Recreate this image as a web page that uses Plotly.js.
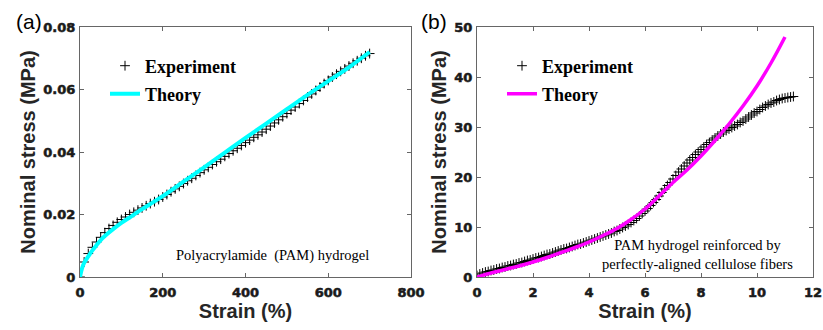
<!DOCTYPE html>
<html>
<head>
<meta charset="utf-8">
<script src="https://cdn.plot.ly/plotly-3.0.1.min.js"></script>
<style>
html,body{margin:0;padding:0;background:#fff;}
#chart{width:823px;height:330px;}
#chart .xtick text, #chart .ytick text, #chart .x2tick text, #chart .y2tick text { stroke: #1a1a1a; stroke-width: 0.55px; }
</style>
</head>
<body>
<div id="chart"></div>
<script>
// Panel (a): Polyacrylamide (PAM) hydrogel
const expA_strain = [0,10,20,30,40,50,60,70,80,90,100,110,120,130,140,150,160,170,180,190,200,210,220,230,240,250,260,270,280,290,300,310,320,330,340,350,360,370,380,390,400,410,420,430,440,450,460,470,480,490,500,510,520,530,540,550,560,570,580,590,600,610,620,630,640,650,660,670,680,690,700];
const expA_stress = [0,0.0048,0.0075,0.0095,0.0112,0.0127,0.0142,0.0155,0.0165,0.0175,0.0184,0.0192,0.0200,0.0207,0.0214,0.0221,0.0228,0.0235,0.0241,0.0248,0.0256,0.0264,0.0273,0.0282,0.0290,0.0299,0.0308,0.0316,0.0325,0.0334,0.0343,0.0351,0.0360,0.0369,0.0377,0.0386,0.0395,0.0404,0.0412,0.0421,0.0430,0.0438,0.0447,0.0455,0.0464,0.0473,0.0483,0.0493,0.0503,0.0513,0.0523,0.0534,0.0544,0.0555,0.0565,0.0576,0.0586,0.0597,0.0608,0.0619,0.0629,0.0640,0.0649,0.0658,0.0666,0.0675,0.0684,0.0692,0.0700,0.0708,0.0715];
const thA_strain = [0,5,10,20,30,40,50,60,80,100,125,150,175,200,250,300,350,400,450,500,550,600,650,700];
const thA_stress = [0,0.0028,0.0045,0.0066,0.0085,0.0102,0.0118,0.0131,0.0153,0.0173,0.0195,0.0217,0.0238,0.0259,0.0305,0.0351,0.0398,0.0445,0.0491,0.0537,0.0583,0.0627,0.0671,0.0720];

// Panel (b): PAM hydrogel reinforced by perfectly-aligned cellulose fibers
const expB_strain = [0.0,0.1,0.2,0.3,0.4,0.5,0.6,0.7,0.8,0.9,1.0,1.1,1.2,1.3,1.4,1.5,1.6,1.7,1.8,1.9,2.0,2.1,2.2,2.3,2.4,2.5,2.6,2.7,2.8,2.9,3.0,3.1,3.2,3.3,3.4,3.5,3.6,3.7,3.8,3.9,4.0,4.1,4.2,4.3,4.4,4.5,4.6,4.7,4.8,4.9,5.0,5.1,5.2,5.3,5.4,5.5,5.6,5.7,5.8,5.9,6.0,6.1,6.2,6.3,6.4,6.5,6.6,6.7,6.8,6.9,7.0,7.1,7.2,7.3,7.4,7.5,7.6,7.7,7.8,7.9,8.0,8.1,8.2,8.3,8.4,8.5,8.6,8.7,8.8,8.9,9.0,9.1,9.2,9.3,9.4,9.5,9.6,9.7,9.8,9.9,10.0,10.1,10.2,10.3,10.4,10.5,10.6,10.7,10.8,10.9,11.0,11.1,11.2,11.3];
const expB_stress = [0.3,0.6,0.8,1.0,1.1,1.3,1.4,1.6,1.7,1.9,2.0,2.2,2.3,2.5,2.6,2.8,2.9,3.1,3.3,3.4,3.6,3.8,3.9,4.1,4.3,4.5,4.6,4.8,5.0,5.2,5.4,5.6,5.7,5.9,6.1,6.3,6.5,6.6,6.8,7.0,7.2,7.4,7.6,7.8,8.0,8.2,8.4,8.6,8.8,9.1,9.3,9.6,9.9,10.2,10.5,10.9,11.3,11.7,12.2,12.7,13.2,13.7,14.3,14.9,15.5,16.2,16.9,17.6,18.3,18.9,19.6,20.3,21.0,21.6,22.2,22.8,23.4,23.9,24.5,25.0,25.5,26.0,26.5,26.9,27.4,27.8,28.2,28.6,29.0,29.3,29.6,29.9,30.2,30.5,30.9,31.2,31.6,32.0,32.4,32.8,33.1,33.5,33.9,34.2,34.5,34.8,35.0,35.3,35.5,35.7,35.8,35.9,36.0,36.1];
const thB_strain = [0,0.5,1,1.5,2,2.5,3,3.5,4,4.5,5,5.5,6,6.5,7,7.5,8,8.5,9,9.5,10,10.5,11];
const thB_stress = [0,0.8,1.5,2.2,3.0,3.9,4.9,5.9,7.0,8.3,9.7,11.5,13.6,16.2,18.9,21.4,24.2,27.3,30.6,34.2,38.2,42.8,48.0];

const xTicksA = [0,200,400,600,800];
const xTickTextA = ['0','200','400','600','800'];
const yTicksA = [0,0.02,0.04,0.06,0.08];
const yTickTextA = ['0','0.02','0.04','0.06','0.08'];
const xTicksB = [0,2,4,6,8,10,12];
const xTickTextB = ['0','2','4','6','8','10','12'];
const yTicksB = [0,10,20,30,40,50];
const yTickTextB = ['0','10','20','30','40','50'];

const W = 823, H = 330;
const px = v => v / W;
const py = v => (H - v) / H;
const bold = arr => arr.map(s => '<b>' + s + '</b>');

const expMarker = {symbol: 'cross-thin', size: 7, color: '#000', line: {color: '#000', width: 1}};

const traces = [
  {x: expA_strain, y: expA_stress, xaxis: 'x', yaxis: 'y', mode: 'markers', name: 'Experiment',
   marker: expMarker, legend: 'legend'},
  {x: thA_strain, y: thA_stress, xaxis: 'x', yaxis: 'y', mode: 'lines', name: 'Theory',
   line: {color: '#00FFFF', width: 4, shape: 'spline'}, legend: 'legend2'},
  {x: expB_strain, y: expB_stress, xaxis: 'x2', yaxis: 'y2', mode: 'markers', name: 'Experiment',
   marker: expMarker, legend: 'legend3'},
  {x: thB_strain, y: thB_stress, xaxis: 'x2', yaxis: 'y2', mode: 'lines', name: 'Theory',
   line: {color: '#FF00FF', width: 3.5, shape: 'spline'}, legend: 'legend4'}
];

const tickFont = {family: 'DejaVu Sans, Arial, sans-serif', size: 13, color: '#1a1a1a', weight: 700};
const titleFont = {family: 'Liberation Sans, Arial, sans-serif', size: 20, color: '#262626', weight: 700};
const axCommon = {
  showline: true, linecolor: '#666', linewidth: 1, mirror: 'ticks',
  ticks: 'inside', ticklen: 4, tickcolor: '#666', tickwidth: 1,
  showgrid: false, zeroline: false, tickfont: tickFont, fixedrange: true
};
const legFont = {family: 'Liberation Serif, Times New Roman, serif', size: 18, color: '#000', weight: 700};
const legCommon = {bgcolor: 'rgba(0,0,0,0)', font: legFont, xanchor: 'left', yanchor: 'middle', itemwidth: 30, borderwidth: 0};

const layout = {
  width: W, height: H,
  margin: {l: 0, r: 0, t: 0, b: 0},
  paper_bgcolor: '#fff', plot_bgcolor: '#fff',
  showlegend: true,
  xaxis: Object.assign({}, axCommon, {domain: [px(80), px(411)], range: [0, 800], tickvals: xTicksA, ticktext: bold(xTickTextA),
    ticklabelstandoff: 3, anchor: 'y', title: {text: 'Strain (%)', font: titleFont, standoff: 4}}),
  yaxis: Object.assign({}, axCommon, {domain: [py(277), py(27)], range: [0, 0.08], tickvals: yTicksA, ticktext: bold(yTickTextA),
    ticklabelstandoff: 1, anchor: 'x', title: {text: 'Nominal stress (MPa)', font: titleFont, standoff: 2}}),
  xaxis2: Object.assign({}, axCommon, {domain: [px(477), px(813)], range: [0, 12], tickvals: xTicksB, ticktext: bold(xTickTextB),
    ticklabelstandoff: 3, anchor: 'y2', title: {text: 'Strain (%)', font: titleFont, standoff: 4}}),
  yaxis2: Object.assign({}, axCommon, {domain: [py(277), py(27)], range: [0, 50], tickvals: yTicksB, ticktext: bold(yTickTextB),
    ticklabelstandoff: 1, anchor: 'x2', title: {text: 'Nominal stress (MPa)', font: titleFont, standoff: 2}}),
  legend: Object.assign({}, legCommon, {x: px(105), y: py(66)}),
  legend2: Object.assign({}, legCommon, {x: px(105), y: py(94)}),
  legend3: Object.assign({}, legCommon, {x: px(502), y: py(66)}),
  legend4: Object.assign({}, legCommon, {x: px(502), y: py(94)}),
  annotations: [
    {xref: 'paper', yref: 'paper', x: px(14), y: py(22), xanchor: 'left', yanchor: 'middle', showarrow: false,
     text: '(a)', font: {family: 'Liberation Sans, Arial, sans-serif', size: 21, color: '#000'}},
    {xref: 'paper', yref: 'paper', x: px(419), y: py(22), xanchor: 'left', yanchor: 'middle', showarrow: false,
     text: '(b)', font: {family: 'Liberation Sans, Arial, sans-serif', size: 21, color: '#000'}},
    {xref: 'paper', yref: 'paper', x: px(371), y: py(255), xanchor: 'right', yanchor: 'middle', showarrow: false,
     text: 'Polyacrylamide  (PAM) hydrogel', font: {family: 'Liberation Serif, Times New Roman, serif', size: 14.5, color: '#000'}},
    {xref: 'paper', yref: 'paper', x: px(697), y: py(254), xanchor: 'center', yanchor: 'middle', showarrow: false, align: 'center',
     text: 'PAM hydrogel reinforced by<br>perfectly-aligned cellulose fibers', font: {family: 'Liberation Serif, Times New Roman, serif', size: 14.5, color: '#000'}}
  ]
};

Plotly.newPlot('chart', traces, layout, {displayModeBar: false, staticPlot: true});
</script>
</body>
</html>
